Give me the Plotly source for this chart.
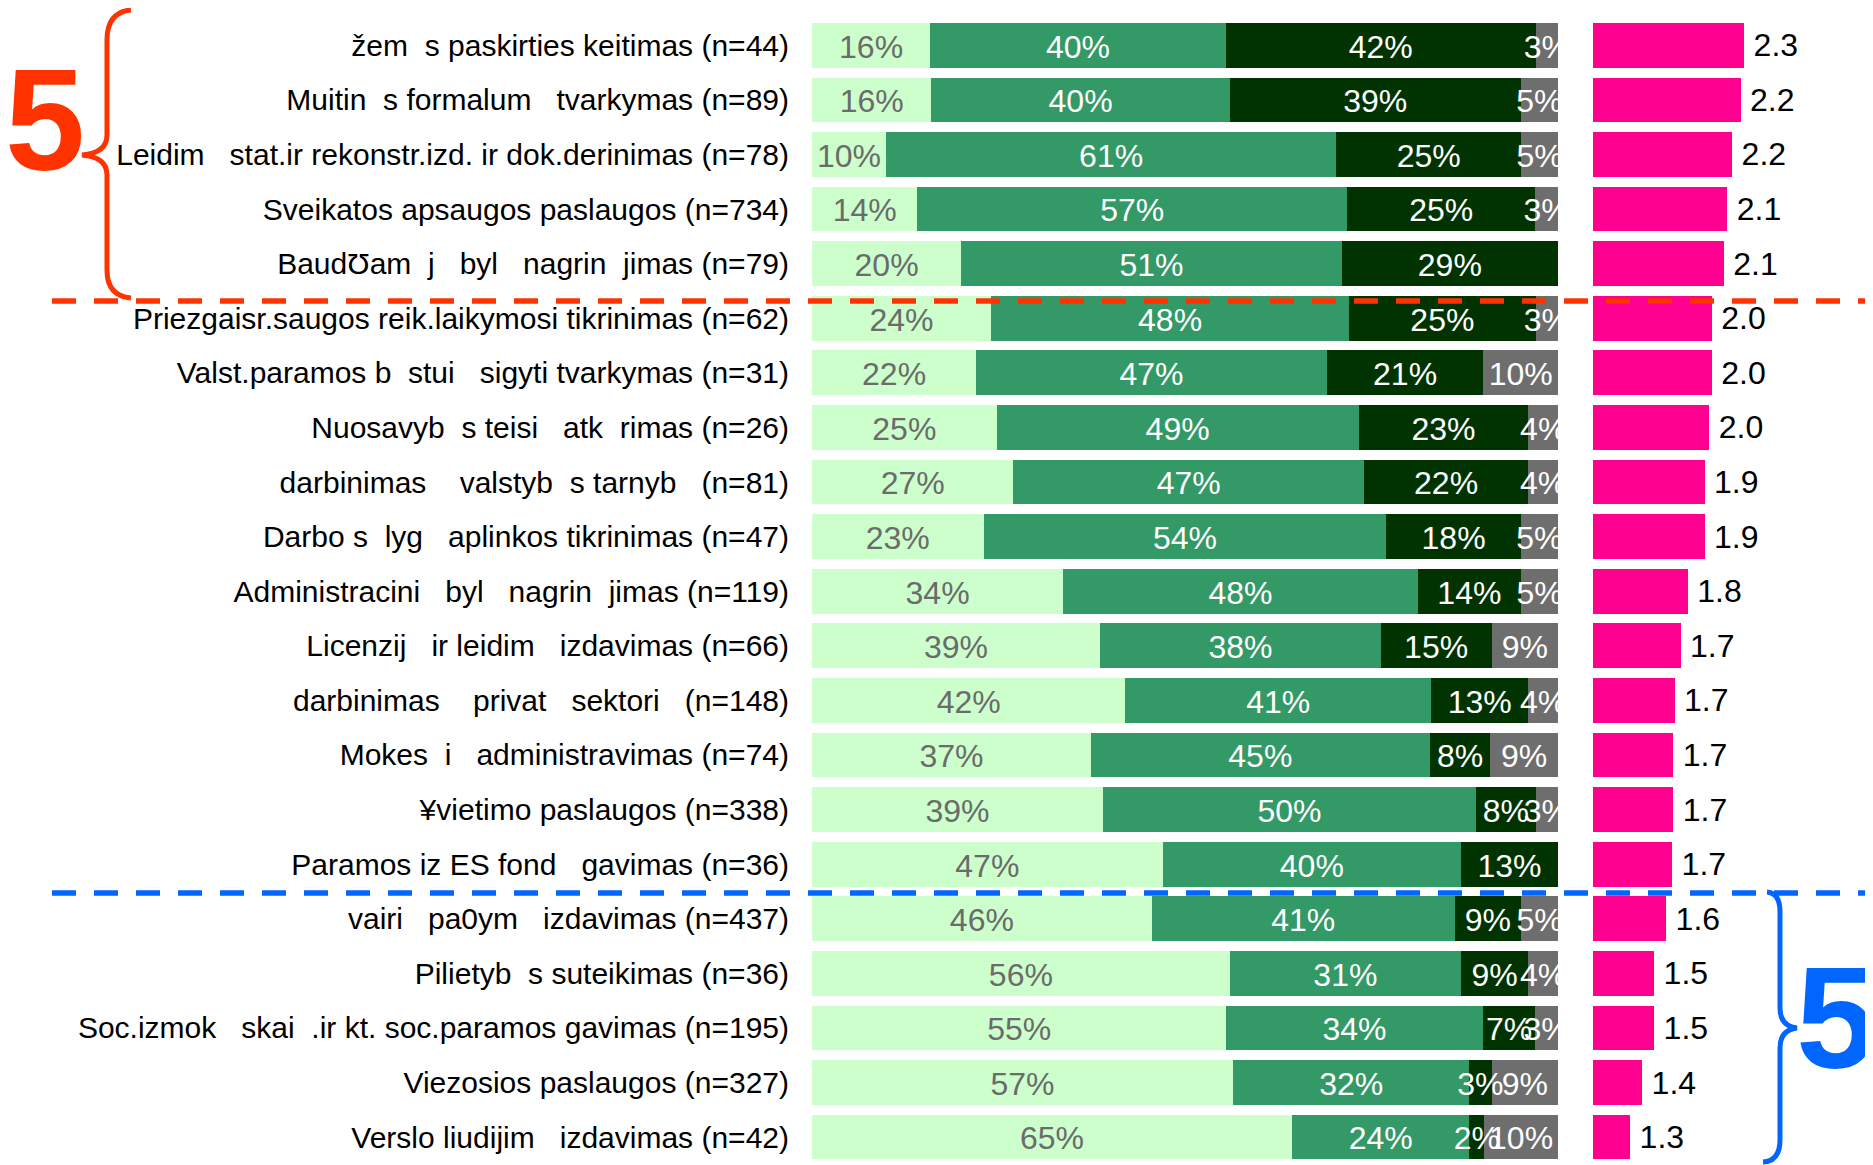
import numpy as np
import plotly.graph_objects as go

GAP = "\u00a0\u00a0"

categories_raw = [
    "žem_s paskirties keitimas (n=44)",
    "Muitin_s formalum_ tvarkymas (n=89)",
    "Leidim_ stat.ir rekonstr.izd. ir dok.derinimas (n=78)",
    "Sveikatos apsaugos paslaugos (n=734)",
    "BaudƱam_j_ byl_ nagrin_jimas (n=79)",
    "Priezgaisr.saugos reik.laikymosi tikrinimas (n=62)",
    "Valst.paramos b_stui _sigyti tvarkymas (n=31)",
    "Nuosavyb_s teisi_ atk_rimas (n=26)",
    "darbinimas _ valstyb_s tarnyb_ (n=81)",
    "Darbo s_lyg_ aplinkos tikrinimas (n=47)",
    "Administracini_ byl_ nagrin_jimas (n=119)",
    "Licenzij_ ir leidim_ izdavimas (n=66)",
    "darbinimas _ privat_ sektori_ (n=148)",
    "Mokes_i_ administravimas (n=74)",
    "¥vietimo paslaugos (n=338)",
    "Paramos iz ES fond_ gavimas (n=36)",
    "vairi_ pa0ym_ izdavimas (n=437)",
    "Pilietyb_s suteikimas (n=36)",
    "Soc.izmok_ skai_.ir kt. soc.paramos gavimas (n=195)",
    "Viezosios paslaugos (n=327)",
    "Verslo liudijim_ izdavimas (n=42)",
]
categories = [c.replace("_", GAP) for c in categories_raw]

share_1 = [16, 16, 10, 14, 20, 24, 22, 25, 27, 23, 34, 39, 42, 37, 39, 47, 46, 56, 55, 57, 65]
share_2 = [40, 40, 61, 57, 51, 48, 47, 49, 47, 54, 48, 38, 41, 45, 50, 40, 41, 31, 34, 32, 24]
share_3 = [42, 39, 25, 25, 29, 25, 21, 23, 22, 18, 14, 15, 13, 8, 8, 13, 9, 9, 7, 3, 2]
share_4 = [3, 5, 5, 3, 0, 3, 10, 4, 4, 5, 5, 9, 4, 9, 3, 0, 5, 4, 3, 9, 10]

scores = [2.26, 2.23, 2.16, 2.12, 2.09, 1.99, 1.99, 1.97, 1.93, 1.93, 1.79,
          1.73, 1.68, 1.67, 1.67, 1.66, 1.61, 1.51, 1.51, 1.41, 1.31]

seg_colors = ["#CCFFCC", "#339966", "#003300", "#6E6E6E"]
txt_colors = ["#6B6B6B", "#FFFFFF", "#FFFFFF", "#FFFFFF"]

PAGE_W, PAGE_H = 1873, 1165
OFF = 8  # default page body margin
W, H = PAGE_W - OFF, PAGE_H - OFF
FONT = "Liberation Sans, Arial, sans-serif"

rows = np.arange(len(categories))
shares = np.array([share_1, share_2, share_3, share_4], dtype=float)
totals = shares.sum(axis=0)
norm = shares / totals * 100.0
cum = np.cumsum(norm, axis=0)
mids = cum - norm / 2.0
TEXT_NUDGE = 0.08  # small downward nudge so the label glyphs sit centred in the bar


def px(x):
    return (x - OFF) / W


def py(y):
    return 1 - (y - OFF) / H


fig = go.Figure()
for i in range(4):
    fig.add_trace(go.Bar(
        x=norm[i], y=rows, orientation="h",
        marker=dict(color=seg_colors[i], line=dict(width=0)),
        xaxis="x", yaxis="y", hoverinfo="skip", showlegend=False,
    ))
for i in range(4):
    labels = [f"{int(v)}%" if v > 0 else "" for v in shares[i]]
    fig.add_trace(go.Scatter(
        x=mids[i], y=rows + TEXT_NUDGE, mode="text", text=labels,
        textposition="middle center",
        textfont=dict(family=FONT, size=32, color=txt_colors[i]),
        xaxis="x", yaxis="y", cliponaxis=True, showlegend=False, hoverinfo="skip",
    ))

fig.add_trace(go.Bar(
    x=scores, y=rows, orientation="h",
    marker=dict(color="#FF0090", line=dict(width=0)),
    texttemplate="\u2009%{x:.1f}", textposition="outside", constraintext="none",
    textfont=dict(family=FONT, size=32, color="#000000"),
    cliponaxis=False, xaxis="x2", yaxis="y", hoverinfo="skip", showlegend=False,
))


def path(pts):
    out = []
    for cmd, coords in pts:
        s = " ".join(f"{px(a):.5f},{py(b):.5f}" for a, b in coords)
        out.append(f"{cmd} {s}")
    return " ".join(out)


red = "#FF3300"
blue = "#0066FF"

red_brace = path([
    ("M", [(131, 10)]), ("Q", [(107, 12), (107, 40)]), ("L", [(107, 135)]),
    ("Q", [(107, 153), (82, 155)]), ("Q", [(107, 157), (107, 175)]),
    ("L", [(107, 270)]), ("Q", [(107, 296), (131, 298)]),
])
blue_brace = path([
    ("M", [(1767, 892)]), ("Q", [(1780, 893), (1780, 912)]), ("L", [(1780, 1008)]),
    ("Q", [(1780, 1026), (1797, 1028)]), ("Q", [(1780, 1030), (1780, 1048)]),
    ("L", [(1780, 1140)]), ("Q", [(1780, 1161), (1763, 1162)]),
])

shapes = [
    dict(type="line", xref="paper", yref="paper", x0=px(52), x1=1, y0=py(301), y1=py(301),
         line=dict(color=red, width=5.5, dash="24px,18px")),
    dict(type="line", xref="paper", yref="paper", x0=px(52), x1=1, y0=py(893), y1=py(893),
         line=dict(color=blue, width=5.5, dash="24px,18px")),
    dict(type="path", xref="paper", yref="paper", path=red_brace,
         line=dict(color=red, width=5)),
    dict(type="path", xref="paper", yref="paper", path=blue_brace,
         line=dict(color=blue, width=5)),
]

annotations = [
    dict(text="<b>5</b>", x=px(45), y=py(121), xref="paper", yref="paper",
         showarrow=False, xanchor="center", yanchor="middle",
         font=dict(family=FONT, size=144, color=red)),
    dict(text="<b>5</b>", x=px(1836), y=py(1018), xref="paper", yref="paper",
         showarrow=False, xanchor="center", yanchor="middle",
         font=dict(family=FONT, size=144, color=blue)),
]

fig.update_layout(
    width=W, height=H,
    margin=dict(l=0, r=0, t=0, b=0),
    paper_bgcolor="white", plot_bgcolor="white",
    barmode="stack", bargap=0.18,
    font=dict(family=FONT, size=30, color="#000000"),
    xaxis=dict(domain=[px(812), px(1558)], range=[0, 100], showgrid=False,
               zeroline=False, showticklabels=False, showline=False, fixedrange=True),
    xaxis2=dict(domain=[px(1593), 1.0], range=[1, 1 + (PAGE_W - 1593) / 120.0], anchor="y",
                showgrid=False, zeroline=False, showticklabels=False, showline=False),
    yaxis=dict(domain=[0, py(18)], type="linear", autorange=False,
               range=[20.5 + 0.6 / 54.6, -0.5], showgrid=False, zeroline=False, showline=False,
               tickmode="array", tickvals=rows, ticktext=categories,
               ticks="outside", ticklen=16, tickcolor="rgba(0,0,0,0)",
               tickfont=dict(family=FONT, size=30, color="#000000")),
    shapes=shapes, annotations=annotations,
)

fig.write_html("out.html")
